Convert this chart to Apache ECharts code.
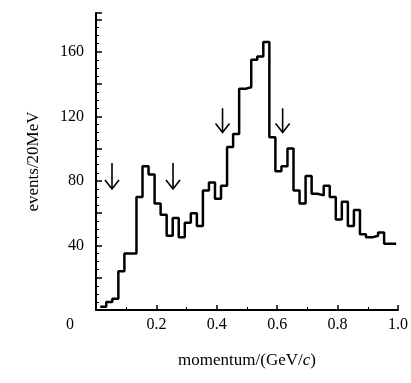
<!DOCTYPE html>
<html>
<head>
<meta charset="utf-8">
<script src="https://cdn.jsdelivr.net/npm/echarts@6/dist/echarts.min.js"></script>
<style>
  html, body { margin: 0; padding: 0; background: #fff; }
  #chart { width: 411px; height: 383px; }
</style>
</head>
<body>
<div id="chart"></div>
<script>
// Momentum spectrum, 20 MeV bins
const binStart = 0.014;   // GeV/c, lower edge of first bin
const binWidth = 0.02;    // GeV/c
const counts = [2, 5, 7, 24, 35, 35, 70, 89, 84, 66,
                59, 46, 57, 45, 54, 60, 52, 74, 79, 69,
                77, 101, 109, 137, 138, 155, 157, 166, 107, 86,
                89, 100, 74, 66, 83, 72, 71, 77, 70, 56,
                67, 52, 62, 47, 45, 46, 48, 41, 41];

// Arrow markers: momentum, arrow top (events), arrow tip (events)
const arrowX = [0.053, 0.255, 0.419, 0.618];
const arrowTop = [91, 91, 125, 125];
const arrowTip = [75, 75, 110, 110];

const xTicks = [0, 0.2, 0.4, 0.6, 0.8, 1.0];
const yLabels = [40, 80, 120, 160];

// step outline: one point per bin edge
const stepData = [];
for (let i = 0; i < counts.length; i++) {
  stepData.push([binStart + i * binWidth, counts[i]]);
}
stepData.push([binStart + counts.length * binWidth, counts[counts.length - 1]]);

const arrowData = arrowX.map((x, i) => [x, arrowTop[i], arrowTip[i]]);

const font = 'Liberation Serif';
const chart = echarts.init(document.getElementById('chart'), null, { renderer: 'canvas' });

chart.setOption({
  animation: false,
  backgroundColor: '#fff',
  grid: { left: 96, right: 13, top: 13, bottom: 73, containLabel: false },
  xAxis: {
    type: 'value',
    min: 0, max: 1.0, interval: 0.2,
    name: 'momentum/(GeV/{i|c})',
    nameLocation: 'middle',
    nameGap: 42,
    nameTextStyle: {
      fontFamily: font, fontSize: 17, color: '#000',
      rich: { i: { fontFamily: font, fontSize: 17, fontStyle: 'italic', color: '#000' } }
    },
    axisLine: { show: true, lineStyle: { color: '#000', width: 2 } },
    axisTick: { show: true, inside: true, length: 5, lineStyle: { color: '#000', width: 1.5 } },
    minorTick: { show: true, splitNumber: 2, length: 3, lineStyle: { color: '#000', width: 1 } },
    splitLine: { show: false },
    axisLabel: {
      margin: 7,
      fontFamily: font, fontSize: 16, color: '#000',
      formatter: v => {
        const t = xTicks.find(k => Math.abs(k - v) < 1e-9);
        if (t === undefined) return '';
        return t === 0 ? '{z|0}' : t.toFixed(1);
      },
      rich: { z: { fontFamily: font, fontSize: 16, color: '#000', padding: [0, 52, 0, 0] } }
    }
  },
  yAxis: {
    type: 'value',
    min: 0, max: 184, interval: 20,
    name: 'events/20MeV',
    nameLocation: 'middle',
    nameGap: 54,
    nameTextStyle: { fontFamily: font, fontSize: 17, color: '#000' },
    axisLine: { show: true, lineStyle: { color: '#000', width: 2 } },
    axisTick: { show: true, inside: true, length: 6, lineStyle: { color: '#000', width: 1.5 } },
    minorTick: { show: true, splitNumber: 4, length: 3, lineStyle: { color: '#000', width: 1 } },
    splitLine: { show: false },
    axisLabel: {
      margin: 12,
      fontFamily: font, fontSize: 16, color: '#000',
      formatter: v => (yLabels.indexOf(v) >= 0 ? String(v) : '')
    }
  },
  series: [
    {
      type: 'line',
      step: 'end',
      data: stepData,
      symbol: 'none',
      lineStyle: { color: '#000', width: 2.5 },
      z: 3
    },
    {
      type: 'custom',
      data: arrowData,
      renderItem: (params, api) => {
        const top = api.coord([api.value(0), api.value(1)]);
        const tip = api.coord([api.value(0), api.value(2)]);
        const style = { stroke: '#000', lineWidth: 1.6, fill: null };
        return {
          type: 'group',
          children: [
            { type: 'line', shape: { x1: top[0], y1: top[1], x2: tip[0], y2: tip[1] }, style },
            { type: 'polyline', shape: { points: [[tip[0] - 7, tip[1] - 9], [tip[0], tip[1]], [tip[0] + 7, tip[1] - 9]] }, style }
          ]
        };
      },
      z: 4
    }
  ]
});
</script>
</body>
</html>
